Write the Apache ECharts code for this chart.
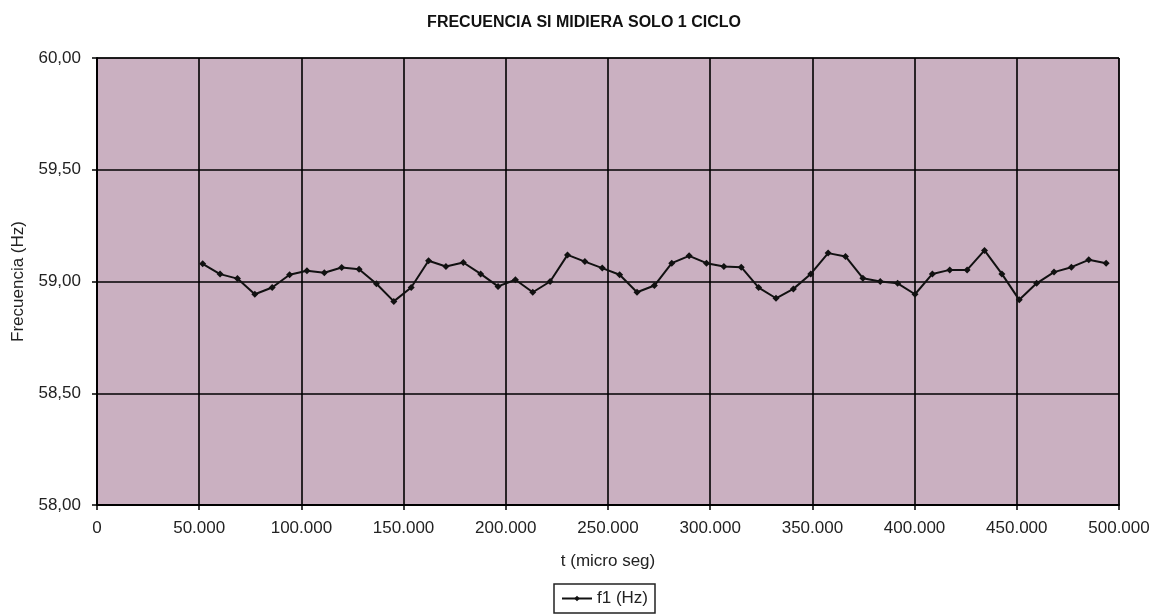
<!DOCTYPE html>
<html>
<head>
<meta charset="utf-8">
<script src="https://cdn.jsdelivr.net/npm/echarts@6/dist/echarts.min.js"></script>
<style>
  html, body { margin: 0; padding: 0; background: #ffffff; }
  #chart { width: 1168px; height: 615px; }
</style>
</head>
<body>
<div id="chart"></div>
<script>
// Sample times (micro seconds), one measurement every half cycle
const tiempos = [
  51700, 60200, 68700, 77200, 85700, 94200, 102700, 111200, 119700, 128200,
  136700, 145200, 153700, 162200, 170700, 179200, 187700, 196200, 204700, 213200,
  221700, 230200, 238700, 247200, 255700, 264200, 272700, 281200, 289700, 298200,
  306700, 315200, 323700, 332200, 340700, 349200, 357700, 366200, 374700, 383200,
  391700, 400200, 408700, 417200, 425700, 434200, 442700, 451200, 459700, 468200,
  476700, 485200, 493700
];

// Frequency computed from a single cycle (Hz)
const f1 = [
  59.079, 59.033, 59.013, 58.943, 58.973, 59.030, 59.048, 59.039, 59.063, 59.055,
  58.990, 58.911, 58.973, 59.093, 59.067, 59.085, 59.034, 58.978, 59.008, 58.952,
  59.000, 59.119, 59.089, 59.060, 59.030, 58.952, 58.982, 59.082, 59.115, 59.082,
  59.067, 59.064, 58.973, 58.925, 58.967, 59.034, 59.127, 59.112, 59.015, 59.000,
  58.992, 58.943, 59.034, 59.052, 59.052, 59.139, 59.034, 58.918, 58.992, 59.042,
  59.064, 59.097, 59.082
];

const titulo = 'FRECUENCIA SI MIDIERA SOLO 1 CICLO';
const nombreX = 't (micro seg)';
const nombreY = 'Frecuencia (Hz)';
const nombreSerie = 'f1 (Hz)';

const FONT = '"Liberation Sans", Arial, sans-serif';
const TXT = '#222';

const puntos = tiempos.map((t, i) => [t, f1[i]]);

const chart = echarts.init(document.getElementById('chart'), null, { renderer: 'canvas' });

chart.setOption({
  backgroundColor: '#ffffff',
  animation: false,
  title: {
    text: titulo,
    left: 'center',
    top: 10,
    textStyle: { fontFamily: FONT, fontSize: 16, fontWeight: 'bold', color: '#111' }
  },
  grid: {
    left: 97, right: 49, top: 58, bottom: 110,
    show: true,
    backgroundColor: '#cab0c1',
    borderColor: '#000',
    borderWidth: 1
  },
  legend: {
    data: [nombreSerie],
    bottom: 2,
    left: 554,
    itemWidth: 30,
    itemHeight: 7,
    itemGap: 4,
    padding: [6, 7, 6, 7],
    borderColor: '#222',
    borderWidth: 1.5,
    borderRadius: 0,
    textStyle: { fontFamily: FONT, fontSize: 17, color: TXT }
  },
  xAxis: {
    type: 'value',
    min: 0, max: 500000, interval: 50000,
    name: nombreX,
    nameLocation: 'middle',
    nameGap: 48,
    nameTextStyle: { fontFamily: FONT, fontSize: 17, color: TXT },
    axisLine: { show: true, lineStyle: { color: '#000', width: 2 } },
    axisTick: { show: true, length: 5, lineStyle: { color: '#000', width: 1.5 } },
    axisLabel: {
      margin: 15,
      fontFamily: FONT, fontSize: 17, color: TXT,
      formatter: v => v === 0 ? '0' : String(v).replace(/\B(?=(\d{3})+(?!\d))/g, '.')
    },
    splitLine: { show: true, lineStyle: { color: '#000', width: 1.6 } }
  },
  yAxis: {
    type: 'value',
    min: 58, max: 60, interval: 0.5,
    name: nombreY,
    nameLocation: 'middle',
    nameGap: 70,
    nameRotate: 90,
    nameTextStyle: { fontFamily: FONT, fontSize: 17, color: TXT },
    axisLine: { show: true, lineStyle: { color: '#000', width: 2 } },
    axisTick: { show: true, length: 5, lineStyle: { color: '#000', width: 1.5 } },
    axisLabel: {
      margin: 16,
      fontFamily: FONT, fontSize: 17, color: TXT,
      formatter: v => v.toFixed(2).replace('.', ',')
    },
    splitLine: { show: true, lineStyle: { color: '#000', width: 1.6 } }
  },
  series: [{
    name: nombreSerie,
    type: 'line',
    data: puntos,
    symbol: 'diamond',
    symbolSize: 7,
    lineStyle: { color: '#111', width: 2 },
    itemStyle: { color: '#111' }
  }]
});
</script>
</body>
</html>
